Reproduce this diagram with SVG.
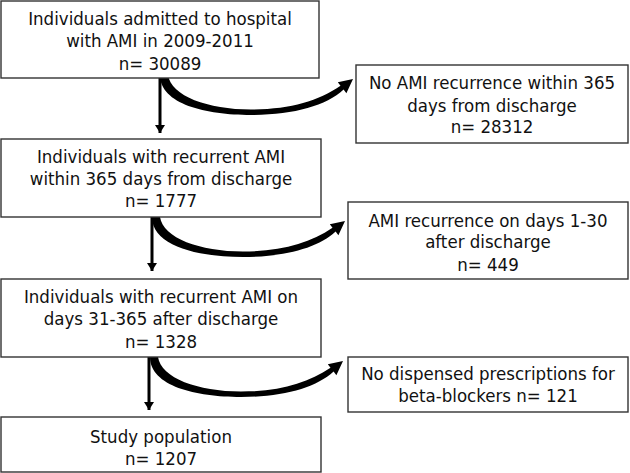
<svg xmlns="http://www.w3.org/2000/svg" width="630" height="473" viewBox="0 0 630 473">
<style>
.box{fill:#fff;stroke:#333;stroke-width:1.4}
.t{font-family:"DejaVu Sans Condensed","DejaVu Sans",sans-serif;font-size:18.5px;fill:#111;text-anchor:middle}
.stem{stroke:#000;stroke-width:3;fill:none}
.curve{fill:#000}
</style>
<defs>
<marker id="ah" markerWidth="10" markerHeight="10" refX="8" refY="5" orient="auto" markerUnits="userSpaceOnUse" viewBox="0 0 10 10">
<path d="M0,0 L8,5 L0,10 Z" fill="#000"/>
</marker>
<path id="bend" d="M152,217 L160,217 C163,238 200,251.5 243,251.5 C282,251.5 310,243 332.5,227.8 L329.8,224.2 L345,221 L338.4,235.2 L335.6,231.6 C318,248 285,257 243,257 C198,257 152,246 152,217 Z"/>
</defs>

<g id="connectors">
<path class="stem" d="M160,78 V133" marker-end="url(#ah)"/>
<path class="stem" d="M152,217 V271" marker-end="url(#ah)"/>
<path class="stem" d="M149,357 V410" marker-end="url(#ah)"/>
<use href="#bend" class="curve" transform="translate(8,-142)"/>
<use href="#bend" class="curve"/>
<use href="#bend" class="curve" transform="translate(-2,140)"/>
</g>

<g id="n1">
<rect class="box" x="1" y="1" width="318" height="77"/>
<text class="t" x="160" y="25">Individuals admitted to hospital</text>
<text class="t" x="160" y="47">with AMI in 2009-2011</text>
<text class="t" x="160" y="70">n= 30089</text>
</g>
<g id="n2">
<rect class="box" x="356" y="65" width="272" height="78"/>
<text class="t" x="492" y="89">No AMI recurrence within 365</text>
<text class="t" x="492" y="112">days from discharge</text>
<text class="t" x="492" y="133">n= 28312</text>
</g>
<g id="n3">
<rect class="box" x="1" y="139" width="320" height="78"/>
<text class="t" x="161" y="163">Individuals with recurrent AMI</text>
<text class="t" x="161" y="185">within 365 days from discharge</text>
<text class="t" x="161" y="207">n= 1777</text>
</g>
<g id="n4">
<rect class="box" x="348" y="202" width="280" height="77"/>
<text class="t" x="488" y="227">AMI recurrence on days 1-30</text>
<text class="t" x="488" y="248">after discharge</text>
<text class="t" x="488" y="271">n= 449</text>
</g>
<g id="n5">
<rect class="box" x="1" y="279" width="320" height="78"/>
<text class="t" x="161" y="303">Individuals with recurrent AMI on</text>
<text class="t" x="161" y="325">days 31-365 after discharge</text>
<text class="t" x="161" y="348">n= 1328</text>
</g>
<g id="n6">
<rect class="box" x="348" y="357" width="280" height="55"/>
<text class="t" x="488" y="380">No dispensed prescriptions for</text>
<text class="t" x="488" y="402">beta-blockers n= 121</text>
</g>
<g id="n7">
<rect class="box" x="1" y="417" width="320" height="55"/>
<text class="t" x="161" y="443">Study population</text>
<text class="t" x="161" y="465">n= 1207</text>
</g>
</svg>
